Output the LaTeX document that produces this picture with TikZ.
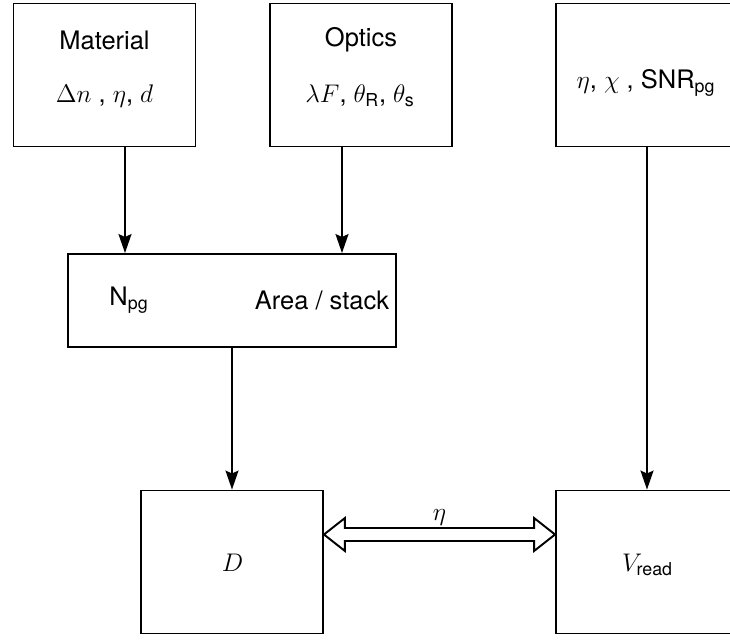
\RequirePackage{fix-cm}
\documentclass[tikz,border=0pt]{standalone}
\usepackage{amsmath}
\usepackage{fontspec}
\setmainfont{TeX Gyre Heros}
\usetikzlibrary{arrows.meta,calc}

\tikzset{
  box/.style={draw, line width=1.1pt, minimum width=3.64cm, minimum height=2.86cm, inner sep=0pt},
  arr/.style={line width=1.1pt, -{Stealth[length=0.38cm, width=0.26cm, inset=0.06cm]}},
  txt/.style={inner sep=0pt, font=\fontsize{14.5}{17.4}\selectfont}
}

\begin{document}
\begin{tikzpicture}[x=0.02cm, y=-0.02cm]
\useasboundingbox (0,0) rectangle (730,639);

% input boxes
\node[box] (mat) at (104.5,75) {};
\node[box] (opt) at (361,75) {};
\node[box] (par) at (647,75) {};
\node[txt] (mattitle) at (104.5,40) {Material};
\node[txt] (matvars) at (104.5,96) {$\Delta n$ , $\eta$, $d$};
\node[txt] (opttitle) at (361,40) {Optics};
\node[txt] (optvars) at (360,96) {$\lambda F$, $\theta_{\text{R}}$, $\theta_{\text{s}}$};
\node[txt] (parvars) at (646,83) {$\eta$, $\chi$ , SNR$_{\text{pg}}$};

% intermediate box
\node[box, minimum width=6.56cm, minimum height=1.86cm] (mid) at (232,300.5) {};
\node[txt] (npg) at (129,300) {N$_{\text{pg}}$};
\node[txt] (area) at (322,300) {Area / stack};

% output boxes
\node[box] (D) at (232,562) {};
\node[box] (V) at (647,562) {};
\node[txt] (Dlab) at (232.5,562.5) {$D$};
\node[txt] (Vlab) at (647.5,565) {$V_{\text{read}}$};

% connectors
\coordinate (matout) at ($(mat.south)+(20.5,0)$);
\coordinate (optout) at ($(opt.south)+(-19,0)$);
\draw[arr] (matout) -- (matout |- mid.north);
\draw[arr] (optout) -- (optout |- mid.north);
\draw[arr] (mid.south) -- (mid.south |- D.north);
\draw[arr] (par.south) -- (par.south |- V.north);

% exchange between D and V_read
\coordinate (dl) at ($(D.east)+(0,-27.5)$);
\coordinate (dr) at ($(V.west)+(0,-27.5)$);
\draw[line width=1.1pt, line join=miter, fill=white]
  (dl) -- ++(21,-16.5) -- ++(0,10) -- ($(dr)+(-21,-6.5)$) -- ++(0,-10)
  -- (dr) -- ++(-21,16.5) -- ++(0,-10) -- ($(dl)+(21,6.5)$) -- ++(0,10) -- cycle;
\node[txt, anchor=base] (etalab) at ($(dl)!0.5!(dr)+(0,-14.5)$) {$\eta$};
\end{tikzpicture}
\end{document}
